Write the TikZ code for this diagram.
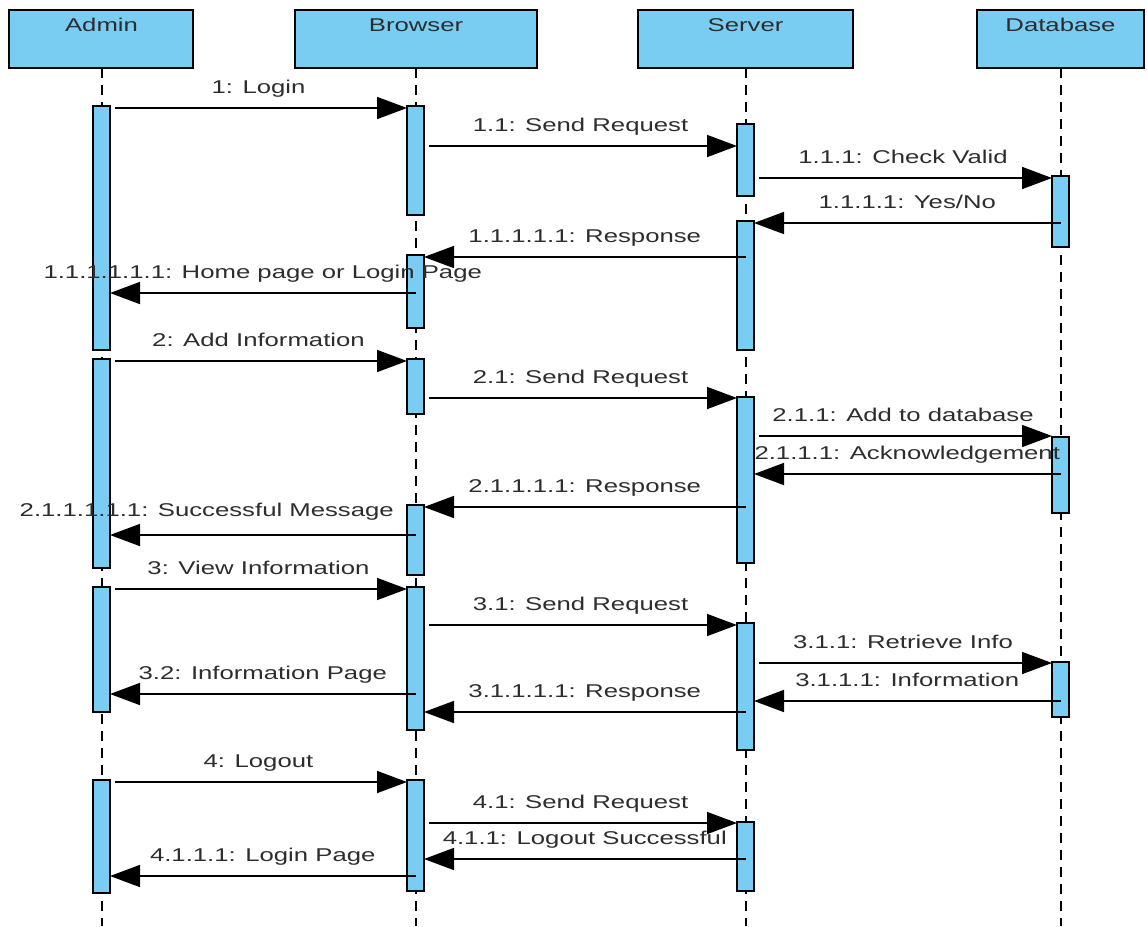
\documentclass[tikz,border=0pt]{standalone}
\usepackage{fontspec}
\setmainfont{Liberation Sans}[FakeStretch=1.39]
\usetikzlibrary{arrows.meta}
\definecolor{lifeblue}{RGB}{122,205,242}
\definecolor{labelgray}{RGB}{45,45,45}
\tikzset{
  header/.style={draw=black, line width=2pt, fill=lifeblue},
  headtext/.style={anchor=base, text=labelgray, inner sep=0pt},
  lifeline/.style={draw=black, line width=2pt, dash pattern=on 10pt off 7pt},
  actbar/.style={draw=black, line width=2pt, fill=lifeblue, rectangle,
    minimum width=17pt, inner sep=0pt, outer sep=0pt},
  msg/.style={draw=black, line width=1.6pt, -{Triangle[length=30pt,width=22pt]}},
  fwd/.style={msg, shorten <=5pt},
  lbl/.style={midway, anchor=base, yshift=15pt, inner sep=0pt, text=labelgray,
    font=\fontsize{18.5}{22}\selectfont}
}
% activation bar: name, x of lifeline, top y, bottom y
\newcommand\actbar[4]{\node[actbar, anchor=north, minimum height={(#4-#3)*1pt}] (#1) at (#2,#3) {};}
\begin{document}
\begin{tikzpicture}[x=1pt, y=-1pt, font=\fontsize{18.5}{22}\selectfont]
\useasboundingbox (0,0) rectangle (1147,926);

% lifeline heads
\path[header] (9,10) rectangle (193,68);
\path[header] (295,10) rectangle (537,68);
\path[header] (638,10) rectangle (853,68);
\path[header] (977,10) rectangle (1144,68);
\node[headtext] (hadmin) at (101.5,31) {Admin};
\node[headtext] (hbrowser) at (416,31) {Browser};
\node[headtext] (hserver) at (745.5,31) {Server};
\node[headtext] (hdb) at (1060.5,31) {Database};

% lifelines
\coordinate (ladmin) at (101.5,926);
\coordinate (lbrowser) at (415.5,926);
\coordinate (lserver) at (745.5,926);
\coordinate (ldb) at (1060.5,926);
\draw[lifeline] (101.5,68) -- (ladmin);
\draw[lifeline] (415.5,68) -- (lbrowser);
\draw[lifeline] (745.5,68) -- (lserver);
\draw[lifeline] (1060.5,68) -- (ldb);

% activation bars
\actbar{a1}{101.5}{106}{350}
\actbar{a2}{101.5}{359}{568}
\actbar{a3}{101.5}{587}{712}
\actbar{a4}{101.5}{780}{893}
\actbar{b1}{415.5}{106}{215}
\actbar{b2}{415.5}{255}{328}
\actbar{b3}{415.5}{359}{414}
\actbar{b4}{415.5}{505}{575}
\actbar{b5}{415.5}{587}{730}
\actbar{b6}{415.5}{780}{891}
\actbar{s1}{745.5}{124}{196}
\actbar{s2}{745.5}{221}{350}
\actbar{s3}{745.5}{397}{563}
\actbar{s4}{745.5}{623}{750}
\actbar{s5}{745.5}{822}{891}
\actbar{d1}{1060.5}{176}{247}
\actbar{d2}{1060.5}{437}{513}
\actbar{d3}{1060.5}{662}{717}

% 1: login
\draw[fwd] (a1.east |- 0,108) -- node[lbl]{1: Login} (b1.west |- 0,108);
\draw[fwd] (b1.east |- 0,146) -- node[lbl]{1.1: Send Request} (s1.west |- 0,146);
\draw[fwd] (s1.east |- 0,178) -- node[lbl]{1.1.1: Check Valid} (d1.west |- 0,178);
\draw[msg] (d1.center |- 0,223) -- node[lbl]{1.1.1.1: Yes/No} (s2.east |- 0,223);
\draw[msg] (s2.center |- 0,257) -- node[lbl]{1.1.1.1.1: Response} (b2.east |- 0,257);
\draw[msg] (b2.center |- 0,293) -- node[lbl]{1.1.1.1.1.1: Home page or Login Page} (a1.east |- 0,293);

% 2: add information
\draw[fwd] (a2.east |- 0,361) -- node[lbl]{2: Add Information} (b3.west |- 0,361);
\draw[fwd] (b3.east |- 0,398) -- node[lbl]{2.1: Send Request} (s3.west |- 0,398);
\draw[fwd] (s3.east |- 0,436) -- node[lbl]{2.1.1: Add to database} (d2.west |- 0,436);
\draw[msg] (d2.center |- 0,474) -- node[lbl]{2.1.1.1: Acknowledgement} (s3.east |- 0,474);
\draw[msg] (s3.center |- 0,507) -- node[lbl]{2.1.1.1.1: Response} (b4.east |- 0,507);
\draw[msg] (b4.center |- 0,535) -- node[lbl, xshift=-56pt, yshift=4pt]{2.1.1.1.1.1: Successful Message} (a2.east |- 0,535);

% 3: view information
\draw[fwd] (a3.east |- 0,589) -- node[lbl]{3: View Information} (b5.west |- 0,589);
\draw[fwd] (b5.east |- 0,625) -- node[lbl]{3.1: Send Request} (s4.west |- 0,625);
\draw[fwd] (s4.east |- 0,663) -- node[lbl]{3.1.1: Retrieve Info} (d3.west |- 0,663);
\draw[msg] (d3.center |- 0,701) -- node[lbl]{3.1.1.1: Information} (s4.east |- 0,701);
\draw[msg] (s4.center |- 0,712) -- node[lbl]{3.1.1.1.1: Response} (b5.east |- 0,712);
\draw[msg] (b5.center |- 0,694) -- node[lbl]{3.2: Information Page} (a3.east |- 0,694);

% 4: logout
\draw[fwd] (a4.east |- 0,782) -- node[lbl]{4: Logout} (b6.west |- 0,782);
\draw[fwd] (b6.east |- 0,823) -- node[lbl]{4.1: Send Request} (s5.west |- 0,823);
\draw[msg] (s5.center |- 0,859) -- node[lbl]{4.1.1: Logout Successful} (b6.east |- 0,859);
\draw[msg] (b6.center |- 0,876) -- node[lbl]{4.1.1.1: Login Page} (a4.east |- 0,876);
\end{tikzpicture}
\end{document}
